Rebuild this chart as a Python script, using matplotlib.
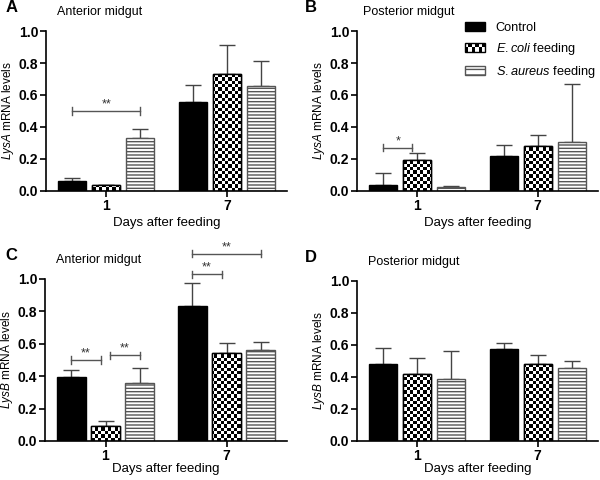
import numpy as np
import matplotlib
matplotlib.use("Agg")
import matplotlib.pyplot as plt
from matplotlib.patches import Rectangle
from matplotlib.legend_handler import HandlerBase

plt.rcParams['font.family'] = ['Liberation Sans', 'DejaVu Sans']
plt.rcParams['mathtext.fontset'] = 'custom'
plt.rcParams['mathtext.it'] = 'Liberation Sans:italic'
plt.rcParams['mathtext.rm'] = 'Liberation Sans'

days = ['1', '7']
groups = ['Control', r'$\it{E{.}coli}$ feeding', r'$\it{S{.}aureus}$ feeding']

# panel data: means and upper error (SD) per group, per day
A_mean = {'ctrl': [0.06, 0.555], 'ecoli': [0.035, 0.73], 'saur': [0.33, 0.655]}
A_err = {'ctrl': [0.02, 0.105], 'ecoli': [0.005, 0.18], 'saur': [0.06, 0.155]}
B_mean = {'ctrl': [0.04, 0.22], 'ecoli': [0.195, 0.28], 'saur': [0.025, 0.305]}
B_err = {'ctrl': [0.07, 0.07], 'ecoli': [0.04, 0.07], 'saur': [0.005, 0.365]}
C_mean = {'ctrl': [0.395, 0.835], 'ecoli': [0.09, 0.545], 'saur': [0.355, 0.56]}
C_err = {'ctrl': [0.045, 0.14], 'ecoli': [0.035, 0.06], 'saur': [0.095, 0.05]}
D_mean = {'ctrl': [0.48, 0.575], 'ecoli': [0.42, 0.48], 'saur': [0.39, 0.455]}
D_err = {'ctrl': [0.10, 0.04], 'ecoli': [0.10, 0.055], 'saur': [0.17, 0.045]}

# significance brackets: (day index, group a, group b, y, label)
A_sig = [(0, 0, 2, 0.50, '**')]
B_sig = [(0, 0, 1, 0.27, '*')]
C_sig = [(0, 0, 1, 0.50, '**'), (0, 1, 2, 0.53, '**'),
         (1, 0, 1, 1.03, '**'), (1, 0, 2, 1.155, '**')]
D_sig = []

panels = [
    ('A', 'Anterior midgut', 'LysA', A_mean, A_err, A_sig, [46, 287, 31, 191]),
    ('B', 'Posterior midgut', 'LysA', B_mean, B_err, B_sig, [357, 598, 31, 191]),
    ('C', 'Anterior midgut', 'LysB', C_mean, C_err, C_sig, [45, 287, 279, 441]),
    ('D', 'Posterior midgut', 'LysB', D_mean, D_err, D_sig, [357, 598, 281, 441]),
]

W, H = 600, 480
fig = plt.figure(figsize=(6, 4.8), dpi=100)

centers = np.array([1.0, 3.0])
offs = [-0.565, 0.0, 0.565]
bw = 0.47
keys = ['ctrl', 'ecoli', 'saur']
errc = '#444444'
gray = '#555555'


def checker(ax, bar, nx, ny):
    yy, xx = np.mgrid[0:ny, 0:nx]
    img = ((xx + yy) % 2).astype(float)
    im = ax.imshow(img, cmap='gray', vmin=0, vmax=1, extent=(0, 4, 0, 1),
                   origin='lower', aspect='auto', interpolation='nearest', zorder=2.1)
    im.set_clip_path(bar)


for letter, title, gene, mean, err, sig, (x0, x1, yt, yb) in panels:
    ax = fig.add_axes([x0 / W, 1 - yb / H, (x1 - x0) / W, (yb - yt) / H])
    npx = (x1 - x0) / 3.3
    npy = (yb - yt) / 3.3
    for gi, k in enumerate(keys):
        xs = centers + offs[gi]
        if k == 'ctrl':
            bars = ax.bar(xs, mean[k], bw, color='black', edgecolor='black', lw=1, zorder=2)
        elif k == 'ecoli':
            bars = ax.bar(xs, mean[k], bw, color='white', edgecolor='black', lw=1, zorder=2)
            for b in bars:
                checker(ax, b, int(round(npx)), int(round(npy)))
            ax.bar(xs, mean[k], bw, color='none', edgecolor='black', lw=1, zorder=2.2)
        else:
            bars = ax.bar(xs, mean[k], bw, color='white', edgecolor=gray, lw=1,
                          hatch='-----', zorder=2)
        ax.errorbar(xs, mean[k], yerr=[np.zeros(2), err[k]], fmt='none', ecolor=errc,
                    elinewidth=1, capsize=5.5, capthick=1, zorder=1.5)
    for di, ga, gb, yv, lab in sig:
        xa = centers[di] + offs[ga]
        xb = centers[di] + offs[gb]
        if ga == 1:
            xa += 0.08
        if gb == 1 and ga == 0:
            xb -= 0.08
        ax.plot([xa, xb], [yv, yv], color=gray, lw=1, clip_on=False, zorder=3)
        for xe in (xa, xb):
            ax.plot([xe, xe], [yv - 0.022, yv + 0.022], color=gray, lw=1, clip_on=False, zorder=3)
        ax.text((xa + xb) / 2, yv + 0.005, lab, ha='center', va='bottom', fontsize=9,
                color='#333333', clip_on=False)
    ax.set_xlim(0, 4)
    ax.set_ylim(0, 1.0)
    ax.set_xticks(centers)
    ax.set_xticklabels(days, fontweight='bold', fontsize=10)
    ax.set_yticks(np.arange(0, 1.01, 0.2))
    ax.set_yticklabels([f'{v:.1f}' for v in np.arange(0, 1.01, 0.2)], fontweight='bold', fontsize=10)
    for s in ['top', 'right']:
        ax.spines[s].set_visible(False)
    for s in ['left', 'bottom']:
        ax.spines[s].set_linewidth(1.2)
    ax.tick_params(width=1.2, length=4, pad=1.5)
    ax.set_ylabel(r'$\it{' + gene + r'}$ mRNA levels', fontsize=8.5, labelpad=2)
    ax.set_xlabel('Days after feeding', fontsize=9.5, labelpad=3 if letter in 'AB' else 0)
    ax.text(0.046 if letter != 'B' else 0.025, 1.08, title, transform=ax.transAxes,
            fontsize=9, va='bottom', ha='left')
    fig.text((x0 - 40) / W if letter in 'AC' else (x0 - 52) / W, 1 - (yt - 23) / H,
             letter, fontsize=12, fontweight='bold', va='center', ha='left')
    if letter == 'B':
        axB = ax


class CheckerHandler(HandlerBase):
    def create_artists(self, legend, orig_handle, xdescent, ydescent, width, height, fontsize, trans):
        arts = [Rectangle((-xdescent, -ydescent), width, height, facecolor='white',
                          edgecolor='black', lw=1, transform=trans)]
        nx, ny = 6, 2
        cw, ch = width / nx, height / ny
        for i in range(nx):
            for j in range(ny):
                if (i + j) % 2 == 0:
                    arts.append(Rectangle((-xdescent + i * cw, -ydescent + j * ch), cw, ch,
                                          facecolor='black', edgecolor='none', transform=trans))
        return arts


h1 = Rectangle((0, 0), 1, 1, facecolor='black', edgecolor='black')
h2 = Rectangle((0, 0), 1, 1, facecolor='white', edgecolor='black')
h3 = Rectangle((0, 0), 1, 1, facecolor='white', edgecolor=gray, hatch='---')
axB.legend([h1, h2, h3], groups, handler_map={h2: CheckerHandler()}, loc='upper left',
           bbox_to_anchor=(0.4, 1.13), frameon=False, fontsize=9.2, handlelength=1.6,
           handleheight=0.7, handletextpad=0.8, labelspacing=0.55)

fig.savefig('out.png', dpi=100)
